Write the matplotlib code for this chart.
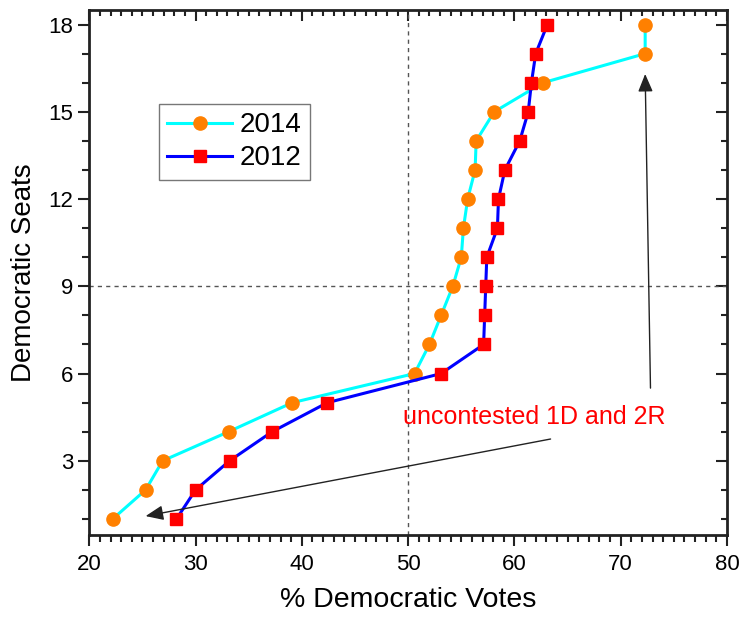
import matplotlib
matplotlib.use("Agg")
import matplotlib.pyplot as plt
from matplotlib.ticker import MultipleLocator

plt.rcParams['font.family'] = ['Liberation Sans', 'DejaVu Sans']

seats = list(range(1, 19))
votes_2014 = [22.2, 25.3, 26.9, 33.1, 39.1, 50.6, 52.0, 53.1, 54.2, 55.0,
              55.2, 55.6, 56.3, 56.4, 58.1, 62.7, 72.3, 72.3]
votes_2012 = [28.2, 30.0, 33.2, 37.2, 42.4, 53.1, 57.1, 57.2, 57.3, 57.4,
              58.4, 58.5, 59.1, 60.5, 61.3, 61.6, 62.0, 63.1]
xticks = [20, 30, 40, 50, 60, 70, 80]
yticks = [3, 6, 9, 12, 15, 18]
annotation = "uncontested 1D and 2R"

fig = plt.figure(figsize=(7.42, 6.17), dpi=100)
ax = fig.add_axes([0.1203, 0.1329, 0.8595, 0.8509])

ax.axvline(50, color='#555555', lw=1, ls=(0, (3, 3)), zorder=1)
ax.axhline(9, color='#555555', lw=1, ls=(0, (3, 3)), zorder=1)

ax.plot(votes_2014, seats, color='#00FFFF', lw=2.2, marker='o', ms=9.5,
        mfc='#FF8000', mec='#FF8000', label='2014', zorder=3)
ax.plot(votes_2012, seats, color='#0000FF', lw=2.2, marker='s', ms=8,
        mfc='#FF0000', mec='#FF0000', label='2012', zorder=3)

ax.set_xlim(20, 80)
ax.set_ylim(0.45, 18.5)
ax.set_xticks(xticks)
ax.set_yticks(yticks)
ax.xaxis.set_minor_locator(MultipleLocator(1))
ax.yaxis.set_minor_locator(MultipleLocator(1))
ax.tick_params(axis='both', which='major', labelsize=16, width=1.5, length=8,
               color='#222222', direction='out')
ax.tick_params(axis='both', which='minor', width=1.5, length=5,
               color='#222222', direction='out')
ax.tick_params(axis='x', which='major', pad=6)
ax.tick_params(top=False, right=False, which='both')

sec_x = ax.secondary_xaxis('top')
sec_x.set_xticks(xticks)
sec_x.xaxis.set_minor_locator(MultipleLocator(1))
sec_x.tick_params(which='major', direction='in', length=8, width=1.5,
                  labeltop=False, color='#222222')
sec_x.tick_params(which='minor', direction='in', length=4.5, width=1.5,
                  color='#222222')
sec_x.spines['top'].set_visible(False)
sec_y = ax.secondary_yaxis('right')
sec_y.set_yticks(yticks)
sec_y.yaxis.set_minor_locator(MultipleLocator(1))
sec_y.tick_params(which='major', direction='in', length=8, width=1.5,
                  labelright=False, color='#222222')
sec_y.tick_params(which='minor', direction='in', length=4.5, width=1.5,
                  color='#222222')
sec_y.spines['right'].set_visible(False)

for sp in ax.spines.values():
    sp.set_linewidth(2)
    sp.set_color('#222222')

ax.set_xlabel('% Democratic Votes', fontsize=20.5, labelpad=8)
ax.set_ylabel('Democratic Seats', fontsize=20, labelpad=8)

ax.text(49.5, 4.52, annotation, color='#FF0000', fontsize=18,
        ha='left', va='center')
ax.annotate('', xy=(25.3, 1.1), xytext=(63.4, 3.75),
            arrowprops=dict(arrowstyle='-|>,head_length=0.6,head_width=0.25',
                            color='#222222', lw=1,
                            mutation_scale=18, shrinkA=0, shrinkB=0))
ax.annotate('', xy=(72.3, 16.3), xytext=(72.8, 5.5),
            arrowprops=dict(arrowstyle='-|>,head_length=0.6,head_width=0.25',
                            color='#222222', lw=1,
                            mutation_scale=18, shrinkA=0, shrinkB=0))

leg = ax.legend(loc='upper left', bbox_to_anchor=(0.109, 0.821),
                borderaxespad=0, fontsize=20, handlelength=2.35,
                handletextpad=0.25, labelspacing=0.25, borderpad=0.3,
                fancybox=False, edgecolor='#777777', framealpha=1)
leg.get_frame().set_linewidth(1)

fig.savefig('out.png', dpi=100)
